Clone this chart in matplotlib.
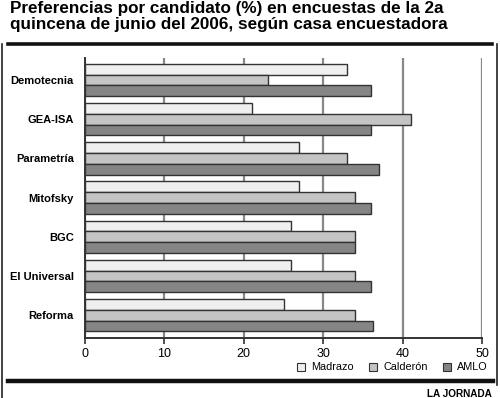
import matplotlib
matplotlib.use("Agg")
import matplotlib.pyplot as plt
import numpy as np
from matplotlib.patches import Rectangle
from matplotlib.lines import Line2D

plt.rcParams['font.family'] = ['Liberation Sans', 'DejaVu Sans']

title = "Preferencias por candidato (%) en encuestas de la 2a\nquincena de junio del 2006, según casa encuestadora"
pollsters = ["Demotecnia", "GEA-ISA", "Parametría", "Mitofsky", "BGC", "El Universal", "Reforma"]
madrazo = [33, 21, 27, 27, 26, 26, 25]
calderon = [23, 41, 33, 34, 34, 34, 34]
amlo = [36, 36, 37, 36, 34, 36, 36.3]
series_names = ["Madrazo", "Calderón", "AMLO"]
colors = ["#efefef", "#c4c4c4", "#858585"]
xticks = [0, 10, 20, 30, 40, 50]

fig = plt.figure(figsize=(5.0, 3.98), dpi=100)
ax = fig.add_axes([85/500, 1-338/398, 397/500, 280/398])

y = np.arange(len(pollsters))
h = 0.275
for k, (vals, c) in enumerate(zip([madrazo, calderon, amlo], colors)):
    ax.barh(y + (k - 1) * h, vals, height=h, color=c, edgecolor="#333333",
            linewidth=1.0, zorder=3)

ax.set_xlim(0, 50)
ax.set_ylim(6.58, -0.56)
ax.set_xticks(xticks)
ax.set_xticklabels([str(t) for t in xticks], fontsize=9)
ax.set_yticks(y)
ax.set_yticklabels(pollsters, fontsize=8, fontweight="bold")
ax.tick_params(axis="y", length=0, pad=8)
ax.tick_params(axis="x", length=4, width=1.2, color="#333333", pad=3)
ax.grid(axis="x", color="#888888", linewidth=1.6, zorder=0)
ax.set_axisbelow(True)
for s in ["top", "right"]:
    ax.spines[s].set_visible(False)
ax.spines["left"].set_linewidth(1.4)
ax.spines["left"].set_color("#333333")
ax.spines["bottom"].set_linewidth(1.4)
ax.spines["bottom"].set_color("#333333")

# Title
fig.text(9.5/500, 1-0.5/398, title, ha="left", va="top", fontsize=12.3,
         fontweight="bold", linespacing=1.15)

# frame lines
fig.add_artist(Line2D([8/500, 492/500], [1-44/398, 1-44/398], color="#111111", linewidth=2.6))
fig.add_artist(Line2D([8/500, 493/500], [1-381/398, 1-381/398], color="#111111", linewidth=3.2))
fig.add_artist(Line2D([2/500, 2/500], [1-44/398, 0], color="#222222", linewidth=1.2))
fig.add_artist(Line2D([497/500, 497/500], [1-44/398, 1-385/398], color="#222222", linewidth=1.2))

# Legend
leg_x = [297, 369, 443]
for name, c, lx in zip(series_names, colors, leg_x):
    fig.add_artist(Rectangle((lx/500, 1-371/398), 8/500, 8/398, facecolor=c,
                             edgecolor="#333333", linewidth=0.8))
    fig.text((lx+14)/500, 1-367/398, name, ha="left", va="center", fontsize=7.8)

fig.text(492/500, 1-394/398, "LA JORNADA", ha="right", va="center", fontsize=7.2,
         fontweight="bold")

fig.savefig("out.png", dpi=100)
